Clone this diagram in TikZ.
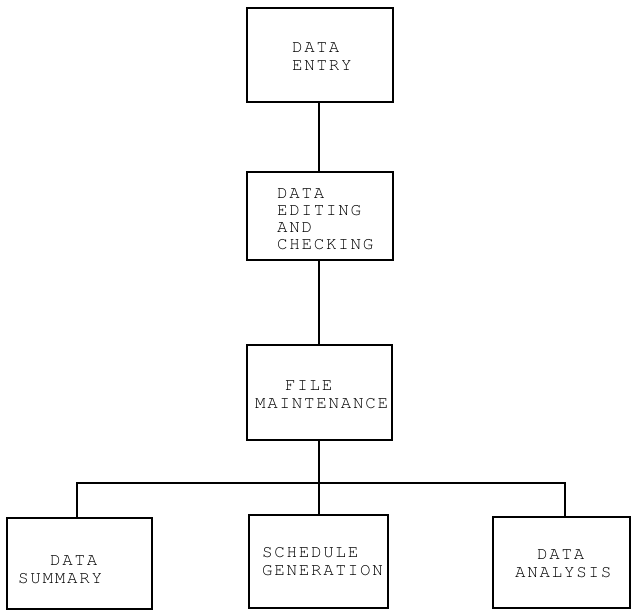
\documentclass[tikz,border=0pt]{standalone}
\usepackage{fontspec}
\setmonofont{texgyrecursor-regular.otf}[LetterSpace=10]
\begin{document}
\begin{tikzpicture}[x=1pt,y=-1pt,
  box/.style={draw=black, line width=2.3pt, rectangle, inner sep=0pt},
  lbl/.style={anchor=north west, inner sep=0pt, align=left,
    font=\ttfamily\fontsize{17.5}{18.5}\selectfont},
  link/.style={draw=black, line width=2.3pt}]
\useasboundingbox (0,0) rectangle (632,610);
% boxes
\node[box, minimum width=146pt, minimum height=94pt] (entry) at (320,55) {};
\node[box, minimum width=146pt, minimum height=88pt] (edit) at (320,216) {};
\node[box, minimum width=145pt, minimum height=95pt] (maint) at (319.5,392.5) {};
\node[box, minimum width=145pt, minimum height=91pt] (summ) at (79.5,563.5) {};
\node[box, minimum width=139pt, minimum height=93pt] (sched) at (318.5,561.5) {};
\node[box, minimum width=137pt, minimum height=91pt] (anal) at (561.5,562.5) {};
% labels
\node[lbl] (tentry) at (292,42) {DATA\\ENTRY};
\node[lbl, font=\ttfamily\fontsize{17.5}{17}\selectfont] (tedit) at (277,188) {DATA\\EDITING\\AND\\CHECKING};
\node[lbl] (tmaint) at (255,380) {\hspace*{30pt}FILE\\MAINTENANCE};
\node[lbl] (tsumm) at (18,555) {\hspace*{32pt}DATA\\SUMMARY};
\node[lbl] (tsched) at (262,547) {SCHEDULE\\GENERATION};
\node[lbl] (tanal) at (515,549) {\hspace*{22pt}DATA\\ANALYSIS};
% connectors
\coordinate (spine) at (319,0);
\coordinate (busL) at (77,483);
\coordinate (busR) at (565,483);
\draw[link] (entry.south -| spine) -- (edit.north -| spine);
\draw[link] (edit.south -| spine) -- (maint.north -| spine);
\draw[link] (maint.south -| spine) -- (sched.north -| spine);
\draw[link] (busL |- summ.north) -- (busL) -- (busR) -- (busR |- anal.north);
\end{tikzpicture}
\end{document}
